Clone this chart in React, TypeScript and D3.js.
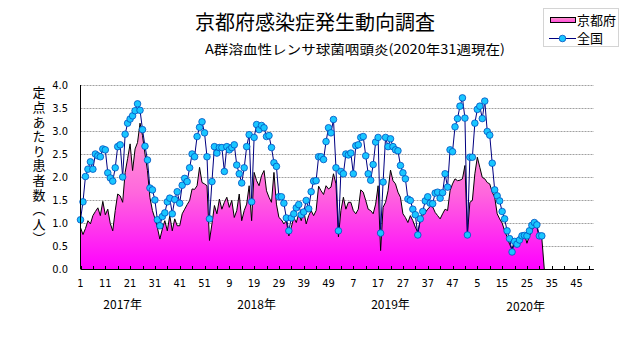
import React from 'react';
import * as d3 from 'd3';

const years = ['2017年', '2018年', '2019年', '2020年'];
const yearLabelIndex = [17, 71, 125, 179.5];
const xTickLabels = ['1', '11', '21', '31', '41', '51', '9', '19', '29', '39', '49', '7', '17', '27', '37', '47', '5', '15', '25', '35', '45'];
const yTicks = [0, 0.5, 1, 1.5, 2, 2.5, 3, 3.5, 4];
const yTitle = '定点あたり患者数（人）';

const kyoto2017 = [0.90, 0.75, 0.88, 1.05, 0.98, 1.16, 1.25, 1.33, 1.16, 1.47, 1.18, 1.30, 0.99, 0.83, 1.27, 1.63, 1.59, 1.45, 2.10, 2.40, 2.72, 2.14, 2.61, 2.75, 3.17, 2.90, 2.50, 2.14, 1.55, 1.27, 1.10, 0.90, 0.65, 0.87, 1.05, 0.83, 1.16, 0.83, 1.09, 0.94, 0.94, 1.20, 1.30, 1.40, 1.49, 1.74, 1.73, 1.81, 2.21, 1.88, 1.85, 1.81];
const kyoto2018 = [0.62, 0.98, 1.38, 1.20, 1.52, 1.30, 1.45, 1.56, 1.34, 1.49, 1.12, 1.27, 1.63, 1.05, 1.27, 1.41, 1.81, 1.05, 2.10, 1.92, 1.81, 2.03, 2.14, 1.70, 1.56, 1.45, 2.10, 1.41, 1.12, 1.07, 0.98, 1.05, 0.72, 0.91, 1.12, 1.01, 1.20, 1.05, 1.27, 0.98, 1.16, 1.27, 1.16, 1.27, 1.80, 1.70, 1.62, 1.81, 1.74, 1.78, 2.07, 1.85];
const kyoto2019 = [0.70, 1.27, 1.56, 1.30, 1.45, 1.45, 1.27, 1.20, 1.30, 1.72, 1.67, 1.49, 1.30, 1.27, 1.20, 1.41, 1.81, 0.40, 1.34, 1.45, 1.70, 2.15, 1.92, 1.85, 1.67, 1.56, 1.20, 1.12, 1.01, 1.16, 1.05, 0.91, 0.80, 1.05, 1.16, 1.23, 1.30, 1.36, 1.35, 1.23, 1.16, 1.09, 1.20, 1.30, 1.27, 1.70, 1.85, 1.96, 1.92, 1.93, 1.96, 2.25];
const kyoto2020 = [0.75, 1.45, 1.49, 2.07, 2.43, 2.21, 1.99, 1.96, 1.88, 1.85, 1.67, 1.56, 1.20, 1.09, 1.00, 0.83, 0.70, 0.54, 0.43, 0.62, 0.63, 0.72, 0.70, 0.76, 0.56, 0.72, 0.83, 0.94, 0.91, 0.69, 0.67];

const national2017 = [1.07, 1.46, 2.01, 2.17, 2.33, 2.17, 2.50, 2.46, 2.44, 2.61, 2.59, 2.09, 1.98, 1.91, 2.20, 2.66, 2.70, 2.00, 2.93, 3.17, 3.26, 3.33, 3.44, 3.59, 3.45, 3.03, 2.67, 2.37, 1.76, 1.72, 1.50, 1.07, 0.94, 1.14, 1.22, 1.46, 1.54, 1.20, 1.51, 1.68, 1.43, 1.82, 1.97, 1.90, 2.20, 2.50, 2.44, 2.88, 3.08, 3.20, 2.96, 2.44];
const national2018 = [1.09, 1.90, 2.66, 2.52, 2.64, 2.64, 2.12, 2.66, 2.59, 2.64, 2.70, 2.26, 2.07, 1.87, 2.20, 2.66, 2.92, 1.46, 2.86, 3.14, 3.03, 3.12, 3.07, 2.88, 2.90, 2.64, 2.31, 2.23, 1.57, 1.57, 1.43, 1.11, 0.83, 1.11, 1.20, 1.33, 1.40, 1.18, 1.24, 1.49, 1.31, 1.68, 1.91, 1.92, 2.44, 2.44, 2.38, 2.77, 3.07, 2.96, 3.25, 2.20];
const national2019 = [0.83, 2.12, 2.07, 2.50, 2.48, 2.52, 2.07, 2.68, 2.70, 2.86, 2.88, 2.46, 2.07, 1.93, 2.27, 2.76, 2.86, 0.78, 1.89, 2.86, 2.66, 2.83, 2.66, 2.59, 2.57, 2.25, 2.09, 1.96, 1.52, 1.49, 1.30, 1.18, 0.74, 1.09, 1.25, 1.48, 1.57, 1.43, 1.42, 1.65, 1.67, 1.54, 1.66, 2.07, 1.78, 2.59, 2.55, 3.09, 3.27, 3.54, 3.72, 3.28];
const national2020 = [0.74, 2.43, 2.43, 3.17, 3.47, 3.54, 3.27, 3.65, 2.99, 2.91, 2.30, 1.72, 1.59, 1.48, 1.25, 1.09, 0.83, 0.66, 0.37, 0.60, 0.54, 0.63, 0.72, 0.73, 0.72, 0.83, 0.95, 1.01, 0.96, 0.72, 0.72];

const totalWeeks = 208;

type Pt = { i: number; v: number };

export default function App() {
  const W = 631;
  const H = 347;
  const left = 80.5;
  const right = 593.9;
  const top = 85;
  const bottom = 269;

  const x = d3.scaleLinear().domain([0, totalWeeks - 1]).range([left, right]);
  const y = d3.scaleLinear().domain([0, 4]).range([bottom, top]);

  const kyoto: Pt[] = [...kyoto2017, ...kyoto2018, ...kyoto2019, ...kyoto2020].map((v, i) => ({ i, v }));
  const national: Pt[] = [...national2017, ...national2018, ...national2019, ...national2020].map((v, i) => ({ i, v }));
  const kyotoArea: Pt[] = [...kyoto, { i: kyoto.length, v: 0 }];

  const area = d3.area<Pt>().x((d) => x(d.i)).y0(y(0)).y1((d) => y(d.v));
  const line = d3.line<Pt>().x((d) => x(d.i)).y((d) => y(d.v));

  const minorTicks = d3.range(0, totalWeeks, 5);
  const font = '"Noto Sans CJK JP", "Noto Sans", sans-serif';
  const numFont = '"Liberation Sans Narrow", "DejaVu Sans Condensed", "Liberation Sans", sans-serif';

  return (
    <svg width={W} height={H} style={{ position: 'absolute', left: 0, top: 0, background: '#fff' }}>
      <defs>
        <linearGradient id="pinkGrad" gradientUnits="userSpaceOnUse" x1="0" y1={y(3.3)} x2="0" y2={y(0)}>
          <stop offset="0" stopColor="#ffa8d2" />
          <stop offset="0.5" stopColor="#ff66dd" />
          <stop offset="1" stopColor="#ff00ff" />
        </linearGradient>
        <linearGradient id="legGrad" x1="0" y1="0" x2="0" y2="1">
          <stop offset="0" stopColor="#ff99cc" />
          <stop offset="1" stopColor="#ff44dd" />
        </linearGradient>
      </defs>
      <rect x={0} y={0} width={W} height={H} fill="#fff" />

      <text x={315} y={30} textAnchor="middle" fontFamily={font} fontSize={20} fill="#000">京都府感染症発生動向調査</text>
      <text x={355} y={54} textAnchor="middle" fontFamily={font} fontSize={13} fill="#000" textLength={300} lengthAdjust="spacingAndGlyphs">A群溶血性レンサ球菌咽頭炎(2020年31週現在)</text>

      {/* legend */}
      <rect x={543.5} y={8.5} width={75} height={38} fill="#fff" stroke="#a8a8a8" strokeDasharray="1,1" />
      <rect x={550.5} y={17.5} width={25} height={5} fill="url(#legGrad)" stroke="#000" strokeWidth={1} />
      <text x={577} y={24.5} fontFamily={font} fontSize={13} fill="#000">京都府</text>
      <line x1={549} x2={576} y1={38.5} y2={38.5} stroke="#000080" strokeWidth={1} />
      <circle cx={562.5} cy={38.5} r={3.3} fill="#19c6ff" stroke="#0050c0" strokeWidth={0.8} />
      <text x={577} y={43} fontFamily={font} fontSize={13} fill="#000">全国</text>

      {/* gridlines */}
      {yTicks.filter((t) => t > 0).map((t) => (
        <line key={'g' + t} x1={left} x2={right} y1={Math.round(y(t)) + 0.5} y2={Math.round(y(t)) + 0.5} stroke="#a0a0a0" strokeWidth={1} strokeDasharray="2,1" />
      ))}

      {/* area */}
      <path d={area(kyotoArea) || ''} fill="url(#pinkGrad)" stroke="none" />
      <path d={line(kyotoArea) || ''} fill="none" stroke="#000" strokeWidth={1} />

      {/* national */}
      <path d={line(national) || ''} fill="none" stroke="#000080" strokeWidth={1} />
      {national.map((d) => (
        <circle key={'n' + d.i} cx={x(d.i)} cy={y(d.v)} r={3.3} fill="#19c6ff" stroke="#0050c0" strokeWidth={0.8} />
      ))}

      {/* axes */}
      <line x1={left} x2={left} y1={top} y2={bottom} stroke="#000" strokeWidth={1} />
      <line x1={left} x2={right} y1={bottom + 0.5} y2={bottom + 0.5} stroke="#000" strokeWidth={1} />
      {minorTicks.map((i) => (
        <line key={'t' + i} x1={Math.round(x(i)) + 0.5} x2={Math.round(x(i)) + 0.5} y1={bottom - 3} y2={bottom} stroke="#000" strokeWidth={1} />
      ))}
      {yTicks.map((t) => (
        <text key={'yl' + t} x={68} y={y(t) + 4} textAnchor="end" fontFamily={numFont} fontSize={11} fill="#000">{t.toFixed(1)}</text>
      ))}
      {xTickLabels.map((lab, k) => (
        <text key={'xl' + k} x={x(k * 10)} y={287} textAnchor="middle" fontFamily={numFont} fontSize={11} fill="#000">{lab}</text>
      ))}
      {years.map((yr, k) => (
        <text key={'yr' + k} x={x(yearLabelIndex[k])} y={k === 3 ? 311 : 309} textAnchor="middle" fontFamily={font} fontSize={12} fill="#000">{yr}</text>
      ))}

      {/* y title (vertical) */}
      <text x={39} y={86} fontFamily={font} fontSize={13} fill="#000" letterSpacing={1.6} style={{ writingMode: 'vertical-rl' }}>{yTitle}</text>
    </svg>
  );
}
